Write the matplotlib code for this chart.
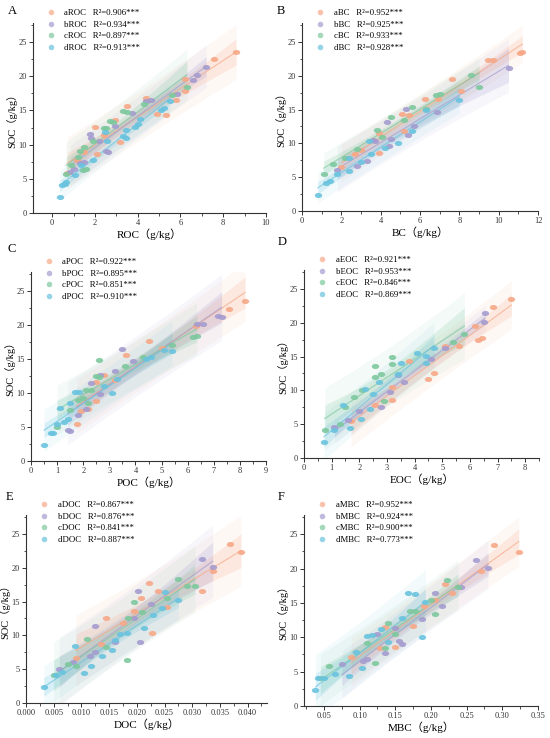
import numpy as np
import matplotlib
matplotlib.use('Agg')
import matplotlib.pyplot as plt
import matplotlib.ticker as mticker
from matplotlib.path import Path
from matplotlib.lines import Line2D

plt.rcParams['font.family'] = ['Liberation Serif', 'Noto Sans CJK SC']

colors = ['#F7A887', '#A49CCF', '#7DC89E', '#69C3DE']
groups = ['a', 'b', 'c', 'd']

# ROC
roc_a_x = [0.7, 1.15, 1.5, 2.1, 2.0, 2.4, 3.15, 2.95, 3.5, 4.4, 4.9, 5.3, 5.8, 6.2, 6.2, 7.55, 8.6]
roc_a_y = [5.8, 7.7, 8.9, 8.6, 12.6, 11.4, 10.4, 13.6, 15.6, 16.8, 14.5, 14.3, 16.5, 17.9, 19.6, 22.5, 23.5]
roc_b_x = [0.85, 1.0, 1.3, 1.5, 1.75, 1.8, 2.2, 2.5, 2.6, 2.95, 3.75, 4.4, 4.6, 5.85, 6.6, 6.75, 7.2]
roc_b_y = [6.0, 6.5, 7.3, 7.5, 11.5, 11.0, 10.6, 9.0, 8.9, 12.7, 14.6, 16.4, 16.5, 17.4, 19.5, 20.2, 21.3]
roc_c_x = [0.65, 0.9, 1.2, 1.3, 1.45, 1.6, 1.5, 1.9, 2.4, 2.5, 2.7, 2.85, 3.3, 3.5, 4.3, 5.6, 6.3]
roc_c_y = [5.7, 7.0, 8.2, 9.0, 6.3, 6.4, 9.6, 10.5, 12.5, 12.4, 13.4, 13.3, 14.9, 14.8, 16.0, 17.2, 18.5]
roc_d_x = [0.35, 0.45, 0.6, 0.65, 1.05, 1.35, 1.9, 2.45, 2.55, 3.3, 3.45, 3.45, 3.85, 4.0, 4.1, 5.1, 5.25, 5.5]
roc_d_y = [2.3, 4.1, 4.2, 4.6, 5.6, 7.0, 7.8, 11.9, 10.5, 11.2, 11.0, 12.1, 12.6, 13.0, 13.8, 15.0, 15.3, 16.4]
roc_r2 = ['0.906', '0.934', '0.897', '0.913']

# BC
bc_a_x = [2.0, 2.7, 3.0, 3.9, 3.9, 5.1, 5.2, 5.45, 6.25, 6.9, 7.65, 8.1, 9.46, 9.7, 11.1, 11.2]
bc_a_y = [6.5, 8.4, 9.0, 8.6, 11.5, 14.4, 11.8, 14.2, 16.6, 16.6, 19.5, 17.7, 22.4, 22.4, 23.4, 23.5]
bc_b_x = [1.8, 2.8, 3.3, 3.7, 3.6, 4.3, 4.4, 4.55, 5.3, 5.4, 5.7, 6.85, 10.5]
bc_b_y = [6.0, 6.7, 7.4, 10.4, 10.5, 13.2, 9.6, 10.6, 15.1, 11.3, 12.6, 14.7, 21.2]
bc_c_x = [1.1, 1.6, 2.2, 2.8, 3.8, 4.05, 4.5, 5.2, 5.6, 6.3, 6.8, 7.0, 8.6, 9.0]
bc_c_y = [5.5, 6.9, 7.9, 9.1, 12.0, 11.0, 13.9, 13.5, 15.4, 15.1, 17.2, 17.3, 20.1, 18.3]
bc_d_x = [0.8, 1.2, 1.4, 1.8, 2.4, 2.4, 3.0, 3.4, 3.5, 4.2, 4.9, 5.6, 6.3, 8.0]
bc_d_y = [2.3, 4.1, 4.5, 5.5, 5.9, 7.8, 7.2, 10.3, 8.4, 9.3, 10.0, 11.8, 15.0, 16.4]
bc_r2 = ['0.952', '0.925', '0.933', '0.928']

# POC
poc_a_x = [1.75, 1.9, 2.2, 2.5, 2.5, 2.8, 3.2, 3.65, 4.5, 5.0, 6.3, 7.6, 8.2]
poc_a_y = [5.5, 7.3, 7.7, 8.8, 11.6, 12.6, 11.9, 15.6, 17.7, 16.6, 19.8, 22.4, 23.5]
poc_b_x = [1.4, 1.5, 1.8, 2.1, 2.3, 2.65, 2.65, 3.2, 3.5, 3.9, 6.35, 6.6, 7.15, 7.3]
poc_b_y = [4.5, 4.4, 6.8, 7.7, 11.4, 9.8, 12.7, 13.2, 16.5, 14.7, 20.1, 20.2, 21.3, 21.2]
poc_c_x = [1.0, 1.5, 1.8, 2.0, 2.1, 2.2, 2.3, 2.5, 2.6, 2.6, 3.6, 4.3, 5.4, 6.2, 6.35]
poc_c_y = [5.0, 7.5, 9.0, 9.2, 10.5, 8.5, 10.5, 12.5, 12.3, 14.9, 14.0, 15.3, 17.1, 18.3, 18.4]
poc_d_x = [0.5, 0.75, 0.85, 1.0, 1.1, 1.25, 1.4, 1.5, 1.7, 1.85, 2.8, 3.1, 3.3, 4.4, 4.6, 5.1, 5.4]
poc_d_y = [2.4, 4.1, 4.1, 5.5, 7.8, 5.7, 6.2, 8.5, 10.2, 10.2, 11.1, 10.0, 12.0, 15.0, 15.3, 16.4, 16.2]
poc_r2 = ['0.922', '0.895', '0.851', '0.910']

# EOC
eoc_a_x = [1.7, 2.55, 3.2, 3.2, 3.8, 4.5, 4.7, 5.1, 5.6, 6.2, 6.3, 6.45, 6.85, 7.5]
eoc_a_y = [5.5, 7.8, 8.6, 10.5, 14.4, 11.7, 12.6, 16.6, 16.6, 19.5, 17.5, 17.8, 22.4, 23.5]
eoc_b_x = [1.1, 1.6, 2.0, 2.8, 3.1, 3.4, 3.6, 4.6, 5.1, 6.5, 6.55]
eoc_b_y = [4.6, 5.6, 7.0, 7.6, 9.7, 12.2, 11.3, 14.6, 16.3, 20.1, 21.4]
eoc_c_x = [0.75, 1.3, 1.5, 1.8, 2.1, 2.55, 2.55, 2.8, 2.9, 3.2, 3.2, 5.4, 5.8]
eoc_c_y = [4.1, 5.1, 7.5, 9.0, 10.0, 12.0, 13.6, 12.4, 8.4, 13.9, 14.9, 17.1, 18.4]
eoc_d_x = [0.72, 1.1, 1.4, 1.65, 2.05, 2.2, 2.4, 2.5, 2.7, 3.4, 3.5, 4.1, 4.4, 4.4, 4.7]
eoc_d_y = [2.3, 4.1, 7.8, 4.5, 5.8, 10.2, 7.3, 9.5, 11.2, 12.4, 14.1, 15.6, 14.1, 15.1, 16.3]
eoc_r2 = ['0.921', '0.953', '0.846', '0.869']

# DOC
doc_a_x = [0.009, 0.0135, 0.0145, 0.0175, 0.0195, 0.0208, 0.0222, 0.0228, 0.0238, 0.0255, 0.0318, 0.0337, 0.0368, 0.0388]
doc_a_y = [6.6, 8.7, 12.6, 11.8, 13.6, 15.6, 17.8, 10.4, 16.6, 14.2, 16.6, 19.5, 23.5, 22.4]
doc_b_x = [0.006, 0.0085, 0.0115, 0.0125, 0.0125, 0.016, 0.0195, 0.0202, 0.0205, 0.0225, 0.0317, 0.0337]
doc_b_y = [5.0, 6.1, 6.9, 7.6, 11.4, 9.0, 12.5, 16.5, 9.0, 14.7, 21.3, 20.1]
doc_c_x = [0.005, 0.0075, 0.009, 0.011, 0.0145, 0.0183, 0.0185, 0.0195, 0.021, 0.0255, 0.0275, 0.029, 0.0305]
doc_c_y = [4.1, 5.8, 5.5, 9.5, 8.3, 6.3, 12.5, 15.0, 13.4, 15.5, 18.4, 17.3, 17.3]
doc_d_x = [0.0032, 0.0055, 0.0065, 0.0088, 0.0105, 0.0118, 0.0137, 0.0155, 0.016, 0.017, 0.0183, 0.0213, 0.023, 0.0245, 0.025, 0.0275]
doc_d_y = [2.4, 4.1, 4.6, 8.5, 4.5, 5.5, 7.0, 7.8, 9.3, 10.2, 10.4, 11.1, 13.0, 14.0, 16.4, 15.2]
doc_r2 = ['0.867', '0.876', '0.841', '0.887']

# MBC
mbc_a_x = [0.088, 0.128, 0.135, 0.15, 0.175, 0.19, 0.205, 0.22, 0.23, 0.27, 0.289, 0.323]
mbc_a_y = [7.2, 8.5, 11.5, 8.6, 11.7, 14.5, 15.4, 17.8, 16.5, 19.6, 23.5, 22.4]
mbc_b_x = [0.075, 0.105, 0.11, 0.125, 0.135, 0.15, 0.155, 0.16, 0.188, 0.205, 0.215, 0.242, 0.263, 0.28]
mbc_b_y = [6.1, 6.6, 6.8, 10.5, 7.7, 11.4, 9.5, 9.0, 12.7, 16.5, 14.6, 17.3, 21.3, 20.1]
mbc_c_x = [0.045, 0.057, 0.11, 0.122, 0.135, 0.14, 0.15, 0.17, 0.178, 0.2, 0.205, 0.222, 0.238]
mbc_c_y = [4.1, 5.8, 9.1, 6.3, 8.5, 12.1, 10.5, 13.9, 13.9, 15.4, 13.4, 18.4, 17.3]
mbc_d_x = [0.038, 0.042, 0.05, 0.065, 0.085, 0.095, 0.103, 0.11, 0.118, 0.13, 0.14, 0.16, 0.168, 0.177, 0.188, 0.192]
mbc_d_y = [2.3, 4.1, 4.1, 4.6, 4.4, 7.8, 5.6, 10.2, 10.3, 11.2, 9.3, 12.8, 16.4, 16.3, 10.1, 15.2]
mbc_r2 = ['0.952', '0.924', '0.900', '0.773']

panels = [
    ('A', 'ROC', [(roc_a_x, roc_a_y), (roc_b_x, roc_b_y), (roc_c_x, roc_c_y), (roc_d_x, roc_d_y)], roc_r2,
     (-0.9, 10), np.arange(0, 11, 2), 1, '%g'),
    ('B', 'BC', [(bc_a_x, bc_a_y), (bc_b_x, bc_b_y), (bc_c_x, bc_c_y), (bc_d_x, bc_d_y)], bc_r2,
     (0, 12), np.arange(0, 13, 2), 1, '%g'),
    ('C', 'POC', [(poc_a_x, poc_a_y), (poc_b_x, poc_b_y), (poc_c_x, poc_c_y), (poc_d_x, poc_d_y)], poc_r2,
     (0, 9), np.arange(0, 10, 1), 0.5, '%g'),
    ('D', 'EOC', [(eoc_a_x, eoc_a_y), (eoc_b_x, eoc_b_y), (eoc_c_x, eoc_c_y), (eoc_d_x, eoc_d_y)], eoc_r2,
     (0, 8.5), np.arange(0, 9, 1), 0.5, '%g'),
    ('E', 'DOC', [(doc_a_x, doc_a_y), (doc_b_x, doc_b_y), (doc_c_x, doc_c_y), (doc_d_x, doc_d_y)], doc_r2,
     (0, 0.0435), np.arange(0, 0.0401, 0.005), 0.0025, '%.3f'),
    ('F', 'MBC', [(mbc_a_x, mbc_a_y), (mbc_b_x, mbc_b_y), (mbc_c_x, mbc_c_y), (mbc_d_x, mbc_d_y)], mbc_r2,
     (0.022, 0.35), np.arange(0.05, 0.351, 0.05), 0.025, '%.2f'),
]

# axes boxes in pixels: left, right, top, bottom
boxes = [(33, 266, 23, 213), (302, 538, 23, 211),
         (31, 266, 272, 461), (304, 539, 270, 458),
         (26, 267, 515, 703), (304, 538, 515, 706)]
# panel letter positions in pixels
letter_pos = [(8, 11), (277, 11), (7, 249), (278, 242), (6, 497), (278, 497)]
W, H = 550, 738

# wide blob marker
circ = Path.unit_circle()
blob = Path(circ.vertices * np.array([1.45, 1.0]), circ.codes)

fig = plt.figure(figsize=(5.5, 7.38), dpi=100)

for (letter, name, series, r2s, xlim, xticks, minor, fmt), (l, r, t, b), (lx, ly) in zip(panels, boxes, letter_pos):
    ax = fig.add_axes([l / W, 1 - b / H, (r - l) / W, (b - t) / H])
    for (xs, ys), col in zip(series, colors):
        x = np.array(xs)
        y = np.array(ys)
        n = len(x)
        slope, icpt = np.polyfit(x, y, 1)
        resid = y - (icpt + slope * x)
        s = np.sqrt(np.sum(resid ** 2) / (n - 2))
        xm = x.mean()
        sxx = np.sum((x - xm) ** 2)
        xg = np.linspace(x.min(), x.max(), 100)
        yg = icpt + slope * xg
        tval = 2.12
        ci = tval * s * np.sqrt(1 / n + (xg - xm) ** 2 / sxx)
        pi = tval * s * np.sqrt(1 + 1 / n + (xg - xm) ** 2 / sxx)
        ax.fill_between(xg, yg - pi, yg + pi, color=col, alpha=0.08, lw=0, zorder=1)
        ax.fill_between(xg, yg - ci, yg + ci, color=col, alpha=0.2, lw=0, zorder=2)
        ax.plot(xg, yg, color=col, lw=0.8, alpha=0.7, zorder=3)
        ax.scatter(x, y, s=28, marker=blob, color=col, alpha=0.9, lw=0, zorder=4)

    ax.set_xlim(*xlim)
    ax.set_ylim(0, 27.8)
    ax.set_xticks(xticks)
    ax.xaxis.set_minor_locator(mticker.MultipleLocator(minor))
    ax.set_yticks([0, 5, 10, 15, 20, 25])
    ax.yaxis.set_minor_locator(mticker.MultipleLocator(2.5))
    ax.xaxis.set_major_formatter(mticker.FormatStrFormatter(fmt))
    ax.spines['top'].set_visible(False)
    ax.spines['right'].set_visible(False)
    for sp in ['left', 'bottom']:
        ax.spines[sp].set_linewidth(0.8)
        ax.spines[sp].set_color('#333333')
    ax.tick_params(which='major', direction='out', length=3, width=0.7, labelsize=6, pad=1.5, colors='#333333')
    ax.tick_params(which='minor', direction='out', length=1.8, width=0.6, colors='#333333')
    ax.set_xlabel(name + '（g/kg）', fontsize=8, labelpad=1)
    ax.set_ylabel('SOC（g/kg）', fontsize=7.5, labelpad=0.5)

    handles = [Line2D([], [], ls='', marker='o', markersize=4, color=c, alpha=0.7, mew=0) for c in colors]
    labels = [g + name + '   R²=' + r2 + '***' for g, r2 in zip(groups, r2s)]
    ax.legend(handles, labels, loc='upper left',
              bbox_to_anchor=(14 / (r - l), 1 + 14 / (b - t)),
              frameon=False, fontsize=6.3, handlelength=1.0, handletextpad=1.0,
              labelspacing=0.4, borderpad=0, borderaxespad=0)

    fig.text(lx / W, 1 - ly / H, letter, fontsize=9, ha='left', va='center')

fig.savefig('out.png', dpi=100)
